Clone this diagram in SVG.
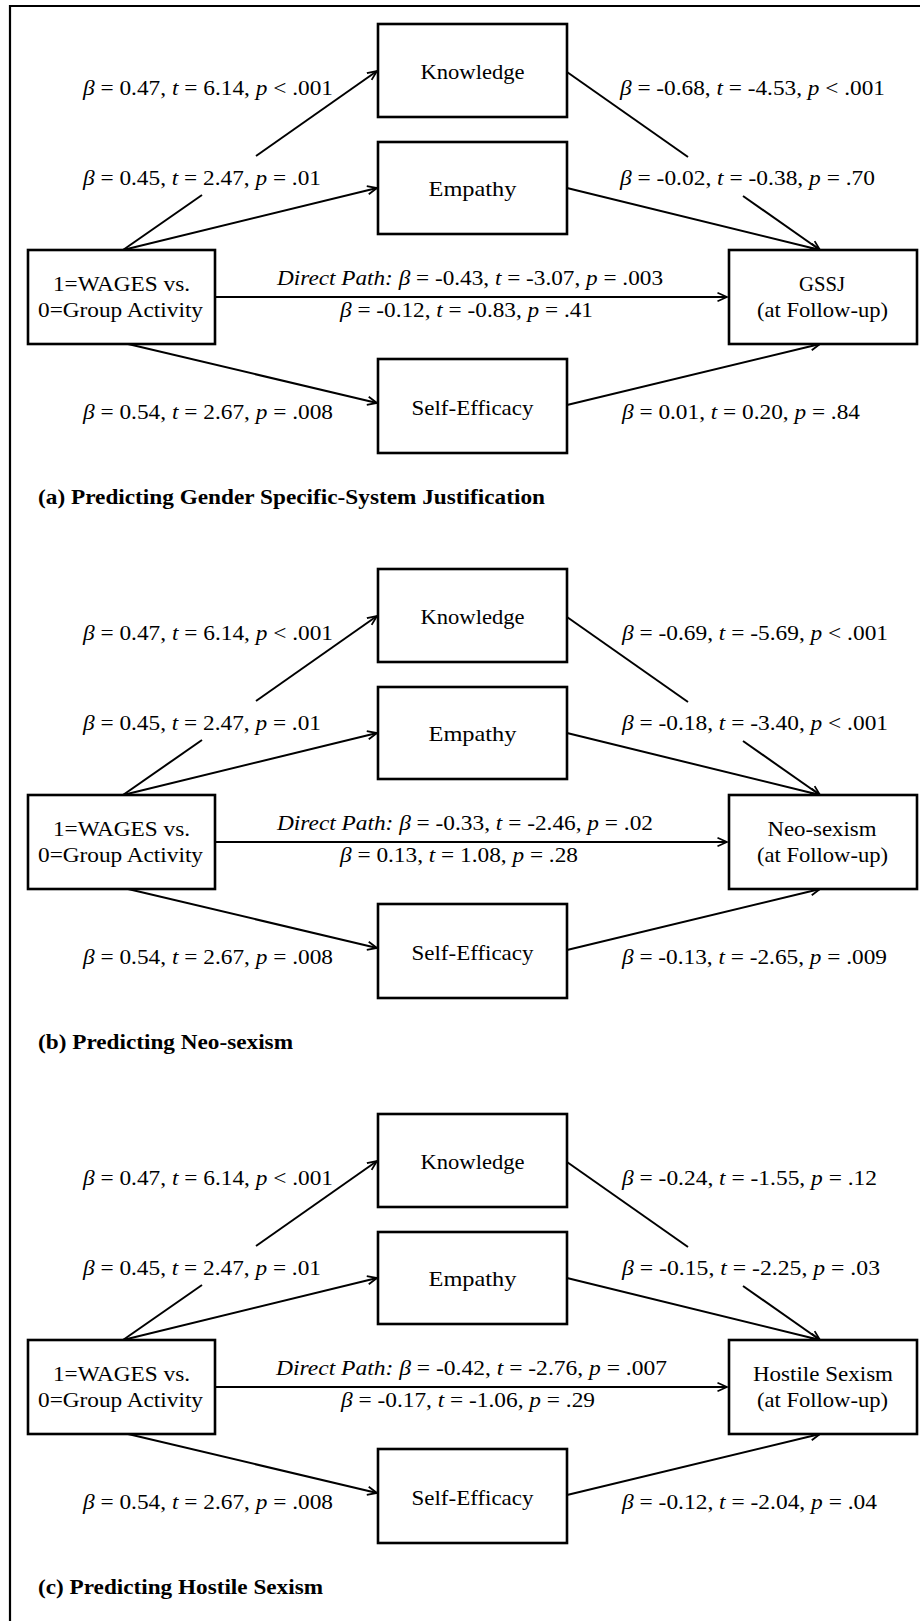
<svg xmlns="http://www.w3.org/2000/svg" width="920" height="1621" viewBox="0 0 920 1621">
<style>
text{font-family:"Liberation Serif","Times New Roman",serif;fill:#000}
.lbl{font-size:21px}
.box{font-size:21px;text-anchor:middle}
.cap{font-size:21px;font-weight:bold}
.i{font-style:italic}
.node rect{fill:#fff;stroke:#000;stroke-width:2.6}
.conn line{stroke:#000;stroke-width:2;fill:none}
.frame{stroke:#000;stroke-width:2.2;fill:none}
</style>
<defs>
<marker id="arr" markerUnits="userSpaceOnUse" markerWidth="12" markerHeight="12" refX="10" refY="6" orient="auto">
<path d="M0.5,1.8 L10,6 L0.5,10.2" fill="none" stroke="#000" stroke-width="1.8"/>
</marker>
</defs>
<rect width="920" height="1621" fill="#fff"/>
<path class="frame" d="M10,1621 L10,6 L920,6"/>

<!-- Panel (a) -->
<g id="panel-a">
<g id="a-connectors" class="conn">
<line x1="123" y1="250" x2="202" y2="195"/>
<line x1="256" y1="156" x2="377" y2="71" marker-end="url(#arr)"/>
<line x1="123" y1="250" x2="377" y2="188" marker-end="url(#arr)"/>
<line x1="128" y1="344" x2="377" y2="403" marker-end="url(#arr)"/>
<line x1="215" y1="297" x2="727" y2="297" marker-end="url(#arr)"/>
<line x1="567" y1="72" x2="688" y2="157"/>
<line x1="743" y1="196" x2="820" y2="250" marker-end="url(#arr)"/>
<line x1="567" y1="188" x2="820" y2="250" marker-end="url(#arr)"/>
<line x1="567" y1="405" x2="820" y2="344" marker-end="url(#arr)"/>
</g>
<g id="a-knowledge" class="node"><rect x="378" y="24" width="189" height="93"/><text class="box" x="472.5" y="79" textLength="104" lengthAdjust="spacingAndGlyphs">Knowledge</text></g>
<g id="a-empathy" class="node"><rect x="378" y="142" width="189" height="92"/><text class="box" x="472.5" y="196" textLength="88" lengthAdjust="spacingAndGlyphs">Empathy</text></g>
<g id="a-selfefficacy" class="node"><rect x="378" y="359" width="189" height="94"/><text class="box" x="472.5" y="415" textLength="122" lengthAdjust="spacingAndGlyphs">Self-Efficacy</text></g>
<g id="a-wages" class="node"><rect x="28" y="250" width="187" height="94"/><text class="box" x="121.5" y="291" textLength="137" lengthAdjust="spacingAndGlyphs">1=WAGES vs.</text><text class="box" x="120.5" y="317" textLength="165" lengthAdjust="spacingAndGlyphs">0=Group Activity</text></g>
<g id="a-outcome" class="node"><rect x="729" y="250" width="188" height="94"/><text class="box" x="822" y="291" textLength="46" lengthAdjust="spacingAndGlyphs">GSSJ</text><text class="box" x="822.5" y="317" textLength="131" lengthAdjust="spacingAndGlyphs">(at Follow-up)</text></g>
<g id="a-labels">
<text class="lbl" x="83" y="95" textLength="250" lengthAdjust="spacingAndGlyphs"><tspan class="i">β</tspan> = 0.47, <tspan class="i">t</tspan> = 6.14, <tspan class="i">p</tspan> &lt; .001</text>
<text class="lbl" x="83" y="185" textLength="238" lengthAdjust="spacingAndGlyphs"><tspan class="i">β</tspan> = 0.45, <tspan class="i">t</tspan> = 2.47, <tspan class="i">p</tspan> = .01</text>
<text class="lbl" x="83" y="419" textLength="250" lengthAdjust="spacingAndGlyphs"><tspan class="i">β</tspan> = 0.54, <tspan class="i">t</tspan> = 2.67, <tspan class="i">p</tspan> = .008</text>
<text class="lbl" x="620" y="95" textLength="265" lengthAdjust="spacingAndGlyphs"><tspan class="i">β</tspan> = -0.68, <tspan class="i">t</tspan> = -4.53, <tspan class="i">p</tspan> &lt; .001</text>
<text class="lbl" x="620" y="185" textLength="255" lengthAdjust="spacingAndGlyphs"><tspan class="i">β</tspan> = -0.02, <tspan class="i">t</tspan> = -0.38, <tspan class="i">p</tspan> = .70</text>
<text class="lbl" x="622" y="419" textLength="238" lengthAdjust="spacingAndGlyphs"><tspan class="i">β</tspan> = 0.01, <tspan class="i">t</tspan> = 0.20, <tspan class="i">p</tspan> = .84</text>
<text class="lbl" x="277" y="285" textLength="386" lengthAdjust="spacingAndGlyphs"><tspan class="i">Direct Path: β</tspan> = -0.43, <tspan class="i">t</tspan> = -3.07, <tspan class="i">p</tspan> = .003</text>
<text class="lbl" x="340" y="317" textLength="253" lengthAdjust="spacingAndGlyphs"><tspan class="i">β</tspan> = -0.12, <tspan class="i">t</tspan> = -0.83, <tspan class="i">p</tspan> = .41</text>
</g>
<text id="a-caption" class="cap" x="38" y="504" textLength="507" lengthAdjust="spacingAndGlyphs">(a) Predicting Gender Specific-System Justification</text>
</g>

<!-- Panel (b) -->
<g id="panel-b" transform="translate(0,545)">
<g id="b-connectors" class="conn">
<line x1="123" y1="250" x2="202" y2="195"/>
<line x1="256" y1="156" x2="377" y2="71" marker-end="url(#arr)"/>
<line x1="123" y1="250" x2="377" y2="188" marker-end="url(#arr)"/>
<line x1="128" y1="344" x2="377" y2="403" marker-end="url(#arr)"/>
<line x1="215" y1="297" x2="727" y2="297" marker-end="url(#arr)"/>
<line x1="567" y1="72" x2="688" y2="157"/>
<line x1="743" y1="196" x2="820" y2="250" marker-end="url(#arr)"/>
<line x1="567" y1="188" x2="820" y2="250" marker-end="url(#arr)"/>
<line x1="567" y1="405" x2="820" y2="344" marker-end="url(#arr)"/>
</g>
<g id="b-knowledge" class="node"><rect x="378" y="24" width="189" height="93"/><text class="box" x="472.5" y="79" textLength="104" lengthAdjust="spacingAndGlyphs">Knowledge</text></g>
<g id="b-empathy" class="node"><rect x="378" y="142" width="189" height="92"/><text class="box" x="472.5" y="196" textLength="88" lengthAdjust="spacingAndGlyphs">Empathy</text></g>
<g id="b-selfefficacy" class="node"><rect x="378" y="359" width="189" height="94"/><text class="box" x="472.5" y="415" textLength="122" lengthAdjust="spacingAndGlyphs">Self-Efficacy</text></g>
<g id="b-wages" class="node"><rect x="28" y="250" width="187" height="94"/><text class="box" x="121.5" y="291" textLength="137" lengthAdjust="spacingAndGlyphs">1=WAGES vs.</text><text class="box" x="120.5" y="317" textLength="165" lengthAdjust="spacingAndGlyphs">0=Group Activity</text></g>
<g id="b-outcome" class="node"><rect x="729" y="250" width="188" height="94"/><text class="box" x="822" y="291" textLength="109" lengthAdjust="spacingAndGlyphs">Neo-sexism</text><text class="box" x="822.5" y="317" textLength="131" lengthAdjust="spacingAndGlyphs">(at Follow-up)</text></g>
<g id="b-labels">
<text class="lbl" x="83" y="95" textLength="250" lengthAdjust="spacingAndGlyphs"><tspan class="i">β</tspan> = 0.47, <tspan class="i">t</tspan> = 6.14, <tspan class="i">p</tspan> &lt; .001</text>
<text class="lbl" x="83" y="185" textLength="238" lengthAdjust="spacingAndGlyphs"><tspan class="i">β</tspan> = 0.45, <tspan class="i">t</tspan> = 2.47, <tspan class="i">p</tspan> = .01</text>
<text class="lbl" x="83" y="419" textLength="250" lengthAdjust="spacingAndGlyphs"><tspan class="i">β</tspan> = 0.54, <tspan class="i">t</tspan> = 2.67, <tspan class="i">p</tspan> = .008</text>
<text class="lbl" x="622" y="95" textLength="266" lengthAdjust="spacingAndGlyphs"><tspan class="i">β</tspan> = -0.69, <tspan class="i">t</tspan> = -5.69, <tspan class="i">p</tspan> &lt; .001</text>
<text class="lbl" x="622" y="185" textLength="266" lengthAdjust="spacingAndGlyphs"><tspan class="i">β</tspan> = -0.18, <tspan class="i">t</tspan> = -3.40, <tspan class="i">p</tspan> &lt; .001</text>
<text class="lbl" x="622" y="419" textLength="265" lengthAdjust="spacingAndGlyphs"><tspan class="i">β</tspan> = -0.13, <tspan class="i">t</tspan> = -2.65, <tspan class="i">p</tspan> = .009</text>
<text class="lbl" x="277" y="285" textLength="376" lengthAdjust="spacingAndGlyphs"><tspan class="i">Direct Path: β</tspan> = -0.33, <tspan class="i">t</tspan> = -2.46, <tspan class="i">p</tspan> = .02</text>
<text class="lbl" x="340" y="317" textLength="238" lengthAdjust="spacingAndGlyphs"><tspan class="i">β</tspan> = 0.13, <tspan class="i">t</tspan> = 1.08, <tspan class="i">p</tspan> = .28</text>
</g>
<text id="b-caption" class="cap" x="38" y="504" textLength="255" lengthAdjust="spacingAndGlyphs">(b) Predicting Neo-sexism</text>
</g>

<!-- Panel (c) -->
<g id="panel-c" transform="translate(0,1090)">
<g id="c-connectors" class="conn">
<line x1="123" y1="250" x2="202" y2="195"/>
<line x1="256" y1="156" x2="377" y2="71" marker-end="url(#arr)"/>
<line x1="123" y1="250" x2="377" y2="188" marker-end="url(#arr)"/>
<line x1="128" y1="344" x2="377" y2="403" marker-end="url(#arr)"/>
<line x1="215" y1="297" x2="727" y2="297" marker-end="url(#arr)"/>
<line x1="567" y1="72" x2="688" y2="157"/>
<line x1="743" y1="196" x2="820" y2="250" marker-end="url(#arr)"/>
<line x1="567" y1="188" x2="820" y2="250" marker-end="url(#arr)"/>
<line x1="567" y1="405" x2="820" y2="344" marker-end="url(#arr)"/>
</g>
<g id="c-knowledge" class="node"><rect x="378" y="24" width="189" height="93"/><text class="box" x="472.5" y="79" textLength="104" lengthAdjust="spacingAndGlyphs">Knowledge</text></g>
<g id="c-empathy" class="node"><rect x="378" y="142" width="189" height="92"/><text class="box" x="472.5" y="196" textLength="88" lengthAdjust="spacingAndGlyphs">Empathy</text></g>
<g id="c-selfefficacy" class="node"><rect x="378" y="359" width="189" height="94"/><text class="box" x="472.5" y="415" textLength="122" lengthAdjust="spacingAndGlyphs">Self-Efficacy</text></g>
<g id="c-wages" class="node"><rect x="28" y="250" width="187" height="94"/><text class="box" x="121.5" y="291" textLength="137" lengthAdjust="spacingAndGlyphs">1=WAGES vs.</text><text class="box" x="120.5" y="317" textLength="165" lengthAdjust="spacingAndGlyphs">0=Group Activity</text></g>
<g id="c-outcome" class="node"><rect x="729" y="250" width="188" height="94"/><text class="box" x="823" y="291" textLength="140" lengthAdjust="spacingAndGlyphs">Hostile Sexism</text><text class="box" x="822.5" y="317" textLength="131" lengthAdjust="spacingAndGlyphs">(at Follow-up)</text></g>
<g id="c-labels">
<text class="lbl" x="83" y="95" textLength="250" lengthAdjust="spacingAndGlyphs"><tspan class="i">β</tspan> = 0.47, <tspan class="i">t</tspan> = 6.14, <tspan class="i">p</tspan> &lt; .001</text>
<text class="lbl" x="83" y="185" textLength="238" lengthAdjust="spacingAndGlyphs"><tspan class="i">β</tspan> = 0.45, <tspan class="i">t</tspan> = 2.47, <tspan class="i">p</tspan> = .01</text>
<text class="lbl" x="83" y="419" textLength="250" lengthAdjust="spacingAndGlyphs"><tspan class="i">β</tspan> = 0.54, <tspan class="i">t</tspan> = 2.67, <tspan class="i">p</tspan> = .008</text>
<text class="lbl" x="622" y="95" textLength="255" lengthAdjust="spacingAndGlyphs"><tspan class="i">β</tspan> = -0.24, <tspan class="i">t</tspan> = -1.55, <tspan class="i">p</tspan> = .12</text>
<text class="lbl" x="622" y="185" textLength="258" lengthAdjust="spacingAndGlyphs"><tspan class="i">β</tspan> = -0.15, <tspan class="i">t</tspan> = -2.25, <tspan class="i">p</tspan> = .03</text>
<text class="lbl" x="622" y="419" textLength="255" lengthAdjust="spacingAndGlyphs"><tspan class="i">β</tspan> = -0.12, <tspan class="i">t</tspan> = -2.04, <tspan class="i">p</tspan> = .04</text>
<text class="lbl" x="276" y="285" textLength="391" lengthAdjust="spacingAndGlyphs"><tspan class="i">Direct Path: β</tspan> = -0.42, <tspan class="i">t</tspan> = -2.76, <tspan class="i">p</tspan> = .007</text>
<text class="lbl" x="341" y="317" textLength="254" lengthAdjust="spacingAndGlyphs"><tspan class="i">β</tspan> = -0.17, <tspan class="i">t</tspan> = -1.06, <tspan class="i">p</tspan> = .29</text>
</g>
<text id="c-caption" class="cap" x="38" y="504" textLength="285" lengthAdjust="spacingAndGlyphs">(c) Predicting Hostile Sexism</text>
</g>
</svg>
